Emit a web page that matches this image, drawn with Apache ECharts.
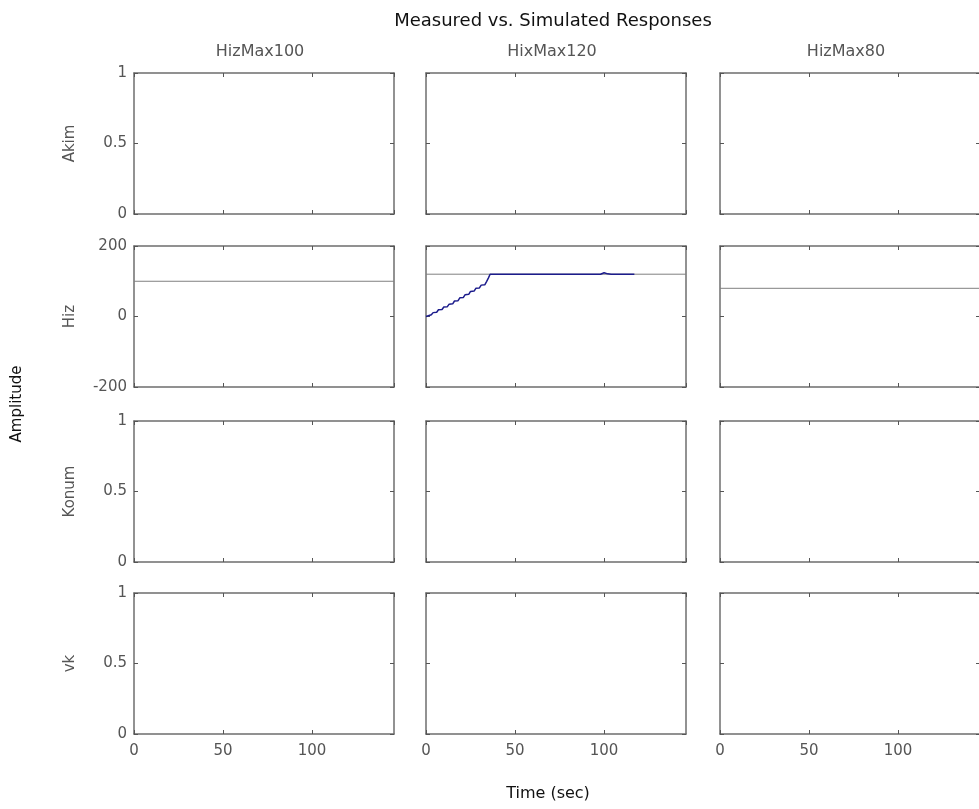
<!DOCTYPE html>
<html>
<head>
<meta charset="utf-8">
<script src="https://cdn.jsdelivr.net/npm/echarts@6/dist/echarts.min.js"></script>
<style>
html,body{margin:0;padding:0;background:#fff;}
#chart{width:979px;height:809px;}
</style>
</head>
<body>
<div id="chart"></div>
<script>
// ---- data ----
const colNames = ['HizMax100', 'HixMax120', 'HizMax80'];
const rowNames = ['Akim', 'Hiz', 'Konum', 'vk'];
const timeMax = 146;
const xTicks = [0, 50, 100];
const unitTicks = [0, 0.5, 1];
const hizTicks = [-200, 0, 200];
const simHiz = [100, 120, 80];            // simulated Hiz level per experiment
const measTime = [0, 1, 3, 4, 6, 7, 9, 10, 12, 13, 15, 16, 18, 19, 21, 22, 24, 25, 27, 28, 30, 31, 33, 34, 35, 36, 60, 98, 99, 100, 102, 104, 117];
const measHiz  = [0, 4, 5, 11, 12, 19, 20, 27, 28, 35, 36, 44, 45, 53, 54, 62, 63, 71, 72, 80, 81, 89, 90, 99, 109, 120, 120, 120, 123, 124, 121, 120, 120];
const measCol = 1;

// ---- layout ----
const colLeft = [134, 426, 720];
const rowTop = [73, 246, 421, 593];
const W = 260, H = 141;
const FONT = 'DejaVu Sans';
const FS = 15;
const tickColor = '#555';
const boxColor = '#6e6e6e';

const grids = [], xAxes = [], yAxes = [], series = [];
let k = 0;
function tickOpt() { return {show: true, inside: true, length: 4, lineStyle: {color: tickColor, width: 1}}; }
function lineOpt() { return {show: true, onZero: false, lineStyle: {color: boxColor, width: 1.5}}; }
for (let r = 0; r < 4; r++) {
  for (let c = 0; c < 3; c++) {
    grids.push({left: colLeft[c], top: rowTop[r], width: W, height: H, show: false,
      containLabel: false, outerBoundsMode: 'none'});
    const yt = r === 1 ? hizTicks : unitTicks;
    const yr = {min: yt[0], max: yt[yt.length - 1], interval: yt[1] - yt[0]};
    const xr = {min: xTicks[0], max: timeMax, interval: xTicks[1] - xTicks[0]};
    const lbl = {color: '#555', fontFamily: FONT, fontSize: FS};
    xAxes.push(Object.assign({type: 'value', gridIndex: k, position: 'bottom',
      axisLine: lineOpt(), axisTick: tickOpt(), splitLine: {show: false},
      axisLabel: Object.assign({show: r === 3, margin: 10, showMaxLabel: false,
        formatter: v => xTicks.indexOf(v) >= 0 ? String(v) : ''}, lbl)}, xr));
    xAxes.push(Object.assign({type: 'value', gridIndex: k, position: 'top',
      axisLine: lineOpt(), axisTick: tickOpt(), splitLine: {show: false},
      axisLabel: {show: false}}, xr));
    yAxes.push(Object.assign({type: 'value', gridIndex: k, position: 'left',
      axisLine: lineOpt(), axisTick: tickOpt(), splitLine: {show: false},
      axisLabel: Object.assign({show: c === 0, margin: 7}, lbl),
      name: c === 0 ? rowNames[r] : '', nameLocation: 'middle', nameRotate: 90,
      nameGap: 56, nameTextStyle: {color: '#555', fontFamily: FONT, fontSize: FS}}, yr));
    yAxes.push(Object.assign({type: 'value', gridIndex: k, position: 'right',
      axisLine: lineOpt(), axisTick: tickOpt(), splitLine: {show: false},
      axisLabel: {show: false}}, yr));
    if (r === 1) {
      series.push({type: 'line', xAxisIndex: 2 * k, yAxisIndex: 2 * k, showSymbol: false,
        lineStyle: {color: '#808080', width: 1}, silent: true,
        data: [[0, simHiz[c]], [timeMax, simHiz[c]]]});
      if (c === measCol) {
        series.push({type: 'line', xAxisIndex: 2 * k, yAxisIndex: 2 * k, showSymbol: false,
          lineStyle: {color: '#1c1c8c', width: 1.5}, silent: true,
          data: measTime.map((t, i) => [t, measHiz[i]])});
      }
    }
    k++;
  }
}

const graphic = [
  {type: 'text', x: 553, y: 21, style: {text: 'Measured vs. Simulated Responses', fill: '#111',
    font: '18px "' + FONT + '"', textAlign: 'center', textVerticalAlign: 'middle'}},
  {type: 'text', x: 17, y: 404, rotation: Math.PI / 2, style: {text: 'Amplitude', fill: '#111',
    font: FS + 'px "' + FONT + '"', textAlign: 'center', textVerticalAlign: 'middle'}},
  {type: 'text', x: 548, y: 794, style: {text: 'Time (sec)', fill: '#111',
    font: '16px "' + FONT + '"', textAlign: 'center', textVerticalAlign: 'middle'}}
];
colNames.forEach((n, c) => graphic.push({type: 'text', x: colLeft[c] + W / 2 - 4, y: 52,
  style: {text: n, fill: '#555', font: '16px "' + FONT + '"', textAlign: 'center', textVerticalAlign: 'middle'}}));

const chart = echarts.init(document.getElementById('chart'), null, {renderer: 'canvas'});
chart.setOption({
  animation: false,
  backgroundColor: '#fff',
  grid: grids, xAxis: xAxes, yAxis: yAxes, series: series, graphic: graphic
});
</script>
</body>
</html>
